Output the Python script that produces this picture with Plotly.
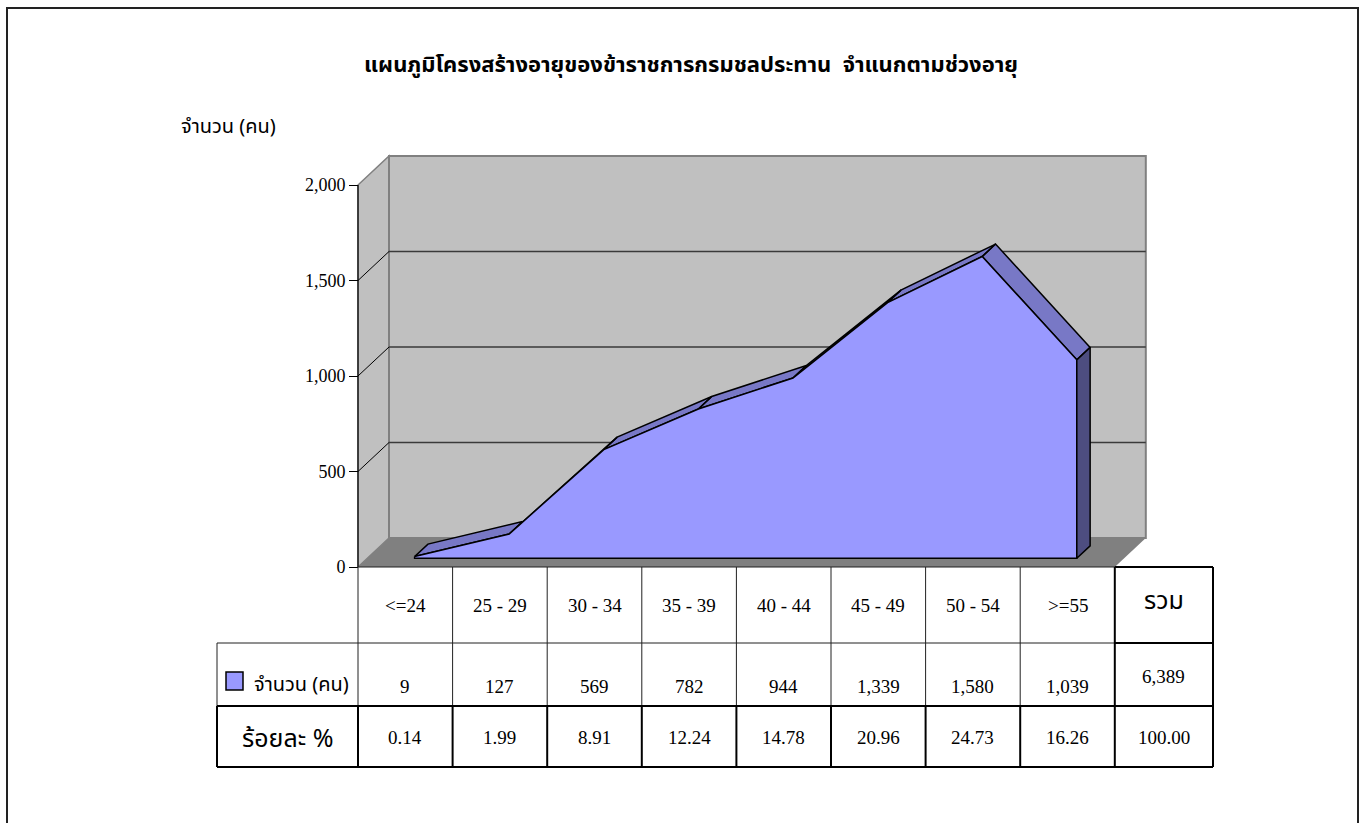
import plotly.graph_objects as go

# ---------------- data ----------------
categories = ["<=24", "25 - 29", "30 - 34", "35 - 39", "40 - 44", "45 - 49", "50 - 54", ">=55"]
counts = [9, 127, 569, 782, 944, 1339, 1580, 1039]
percents = [0.14, 1.99, 8.91, 12.24, 14.78, 20.96, 24.73, 16.26]
total_count = 6389
total_percent = 100.00
y_ticks = [0, 500, 1000, 1500, 2000]

title_text = "แผนภูมิโครงสร้างอายุของข้าราชการกรมชลประทาน  จำแนกตามช่วงอายุ"
y_title = "จำนวน (คน)"
series_name = "จำนวน (คน)"
pct_label = "ร้อยละ %"
total_label = "รวม"

# ---------------- geometry / style ----------------
W, H = 1361, 823
FX0, CW = 358.0, 94.6      # pixel x of category -0.5, pixels per category
FY0, VS = 567.0, 0.191     # pixel y of value 0, pixels per unit
DXP, DYP = 31.0, 29.0      # full depth offset (pixels)
F_FRONT, F_BACK = 0.30, 0.73
n = len(categories)
dxd = DXP / CW
dyd = DYP / VS

X_LEFT_PX, X_RIGHT_PX = 340.0, 1155.0
Y_TOP_PX = 148.0
xr = [-0.5 - (FX0 - X_LEFT_PX) / CW, -0.5 + (X_RIGHT_PX - FX0) / CW]
yr = [0, (FY0 - Y_TOP_PX) / VS]

def px(x):
    return x / W

def py(y):
    return 1 - y / H

SERIF = "Liberation Serif, Times New Roman, serif"
THAI = "Noto Sans Thai, Noto Serif Thai, Garuda, Loma, Norasi, Tlwg Typo, DejaVu Sans, sans-serif"
FACE = "#9999FF"
TOP = "#7878C6"
SIDE = "#4D4D80"
WALL = "#C0C0C0"
FLOOR = "#808080"
EDGE = "#808080"

def pt(i, v, f):
    return i + f * dxd, v + f * dyd

fig = go.Figure()

# top bands of the 3D area
bx, by = [], []
for i in range(n - 1):
    a = pt(i, counts[i], F_FRONT)
    b = pt(i + 1, counts[i + 1], F_FRONT)
    c = pt(i + 1, counts[i + 1], F_BACK)
    d = pt(i, counts[i], F_BACK)
    for p in (a, b, c, d, a):
        bx.append(p[0]); by.append(p[1])
    bx.append(None); by.append(None)
fig.add_trace(go.Scatter(x=bx, y=by, mode="lines", fill="toself", fillcolor=TOP,
                         line=dict(color="black", width=1.5), hoverinfo="skip", showlegend=False))

# front face
fx, fy = [], []
for i in range(n):
    p = pt(i, counts[i], F_FRONT)
    fx.append(p[0]); fy.append(p[1])
for p in (pt(n - 1, 0, F_FRONT), pt(0, 0, F_FRONT), pt(0, counts[0], F_FRONT)):
    fx.append(p[0]); fy.append(p[1])
fig.add_trace(go.Scatter(x=fx, y=fy, mode="lines", fill="toself", fillcolor=FACE,
                         line=dict(color="black", width=1.5), hoverinfo="skip",
                         name=series_name, showlegend=False))

# right end cap
cap = [pt(n - 1, 0, F_FRONT), pt(n - 1, counts[-1], F_FRONT), pt(n - 1, counts[-1], F_BACK),
       pt(n - 1, 0, F_BACK), pt(n - 1, 0, F_FRONT)]
fig.add_trace(go.Scatter(x=[p[0] for p in cap], y=[p[1] for p in cap], mode="lines", fill="toself",
                         fillcolor=SIDE, line=dict(color="black", width=1.5), hoverinfo="skip",
                         showlegend=False))

shapes = []

def path(points):
    return "M " + " L ".join(f"{x},{y}" for x, y in points) + " Z"

x0, x1 = -0.5, n - 0.5
ymax = y_ticks[-1]
# floor
shapes.append(dict(type="path", xref="x", yref="y", layer="below",
                   path=path([(x0, 0), (x1, 0), (x1 + dxd, dyd), (x0 + dxd, dyd)]),
                   fillcolor=FLOOR, line=dict(width=0)))
# left side wall
shapes.append(dict(type="path", xref="x", yref="y", layer="below",
                   path=path([(x0, 0), (x0, ymax), (x0 + dxd, ymax + dyd), (x0 + dxd, dyd)]),
                   fillcolor=WALL, line=dict(color=EDGE, width=1.5)))
# back wall
shapes.append(dict(type="path", xref="x", yref="y", layer="below",
                   path=path([(x0 + dxd, dyd), (x1 + dxd, dyd), (x1 + dxd, ymax + dyd), (x0 + dxd, ymax + dyd)]),
                   fillcolor=WALL, line=dict(color=EDGE, width=2)))
# gridlines
for v in y_ticks[1:-1]:
    shapes.append(dict(type="line", xref="x", yref="y", layer="below",
                       x0=x0 + dxd, x1=x1 + dxd, y0=v + dyd, y1=v + dyd,
                       line=dict(color="#3a3a3a", width=1.5)))
    shapes.append(dict(type="line", xref="x", yref="y", layer="below",
                       x0=x0, x1=x0 + dxd, y0=v, y1=v + dyd,
                       line=dict(color="black", width=1)))
# front vertical axis line
shapes.append(dict(type="line", xref="x", yref="y", layer="above",
                   x0=x0, x1=x0, y0=0, y1=ymax, line=dict(color="black", width=1.2)))

# ---------------- data table ----------------
col_px = [FX0 + CW * k for k in range(n + 1)]
TOT_R = 1213.0
LEG_L = 217.0
R1T, R2T, R3T, R3B = 567.0, 643.0, 706.0, 767.0
THIN = dict(color="#202020", width=1)
THICK = dict(color="black", width=2)

def pline(xa, ya, xb, yb, ln):
    shapes.append(dict(type="line", xref="paper", yref="paper",
                       x0=px(xa), y0=py(ya), x1=px(xb), y1=py(yb), line=ln))

pline(col_px[0], R1T, col_px[-1], R1T, THIN)
pline(LEG_L, R2T, col_px[-1], R2T, THIN)
for xk in col_px[:-1]:
    pline(xk, R1T, xk, R3T, THIN)
pline(LEG_L, R2T, LEG_L, R3T, THIN)
# total column box (thick)
pline(col_px[-1], R1T, TOT_R, R1T, THICK)
pline(col_px[-1], R2T, TOT_R, R2T, THICK)
pline(col_px[-1], R1T, col_px[-1], R3T, THICK)
pline(TOT_R, R1T, TOT_R, R3B, THICK)
# percent row (thick)
pline(LEG_L, R3T, TOT_R, R3T, THICK)
pline(LEG_L, R3B, TOT_R, R3B, THICK)
pline(LEG_L, R3T, LEG_L, R3B, THICK)
for xk in col_px:
    pline(xk, R3T, xk, R3B, THICK)

# legend key
shapes.append(dict(type="rect", xref="paper", yref="paper",
                   x0=px(226), x1=px(243), y0=py(690), y1=py(672),
                   fillcolor=FACE, line=dict(color="black", width=1.5)))

# outer frame
shapes.append(dict(type="rect", xref="paper", yref="paper",
                   x0=px(7), x1=px(1358), y0=py(840), y1=py(8),
                   line=dict(color="#222222", width=2)))

annotations = []

def ann(text, x, y, size, family=SERIF, bold=False, xanchor="center"):
    t = text.replace("<", "&lt;").replace(">", "&gt;")
    if bold:
        t = "<b>" + t + "</b>"
    annotations.append(dict(text=t, x=px(x), y=py(y), xref="paper", yref="paper",
                            xanchor=xanchor, yanchor="middle", showarrow=False,
                            font=dict(family=family, size=size, color="black")))

for k, cat in enumerate(categories):
    cx = (col_px[k] + col_px[k + 1]) / 2
    ann(cat, cx, 605, 19)
    ann(f"{counts[k]:,}", cx, 686, 19)
    ann(f"{percents[k]:.2f}", cx, 737, 19)
tcx = (col_px[-1] + TOT_R) / 2
ann(total_label, tcx, 601, 25, family=THAI)
ann(f"{total_count:,}", tcx, 676, 19)
ann(f"{total_percent:.2f}", tcx, 737, 19)
ann(series_name, 252, 685, 20, family=THAI, xanchor="left")
ann(pct_label, 287, 739, 25, family=THAI)
ann(y_title, 228, 127, 20, family=THAI)
ann(title_text, 691, 66, 22, family=THAI, bold=True)

fig.update_layout(
    width=W, height=H,
    margin=dict(l=0, r=0, t=0, b=0, pad=0, autoexpand=False),
    paper_bgcolor="white", plot_bgcolor="rgba(0,0,0,0)",
    showlegend=False,
    xaxis=dict(domain=[px(X_LEFT_PX), px(X_RIGHT_PX)], range=xr, visible=False,
               fixedrange=True, automargin=False),
    yaxis=dict(domain=[py(FY0), py(Y_TOP_PX)], range=yr, anchor="free", position=px(FX0),
               showgrid=False, zeroline=False, showline=False, automargin=False,
               ticks="outside", ticklen=9, tickwidth=1, tickcolor="black",
               tickvals=y_ticks, tickformat=",", fixedrange=True,
               tickfont=dict(family=SERIF, size=18, color="black")),
    shapes=shapes,
    annotations=annotations,
)

fig.write_html("out.html", post_script="document.body.style.margin='0';",
               config={"displayModeBar": False})
